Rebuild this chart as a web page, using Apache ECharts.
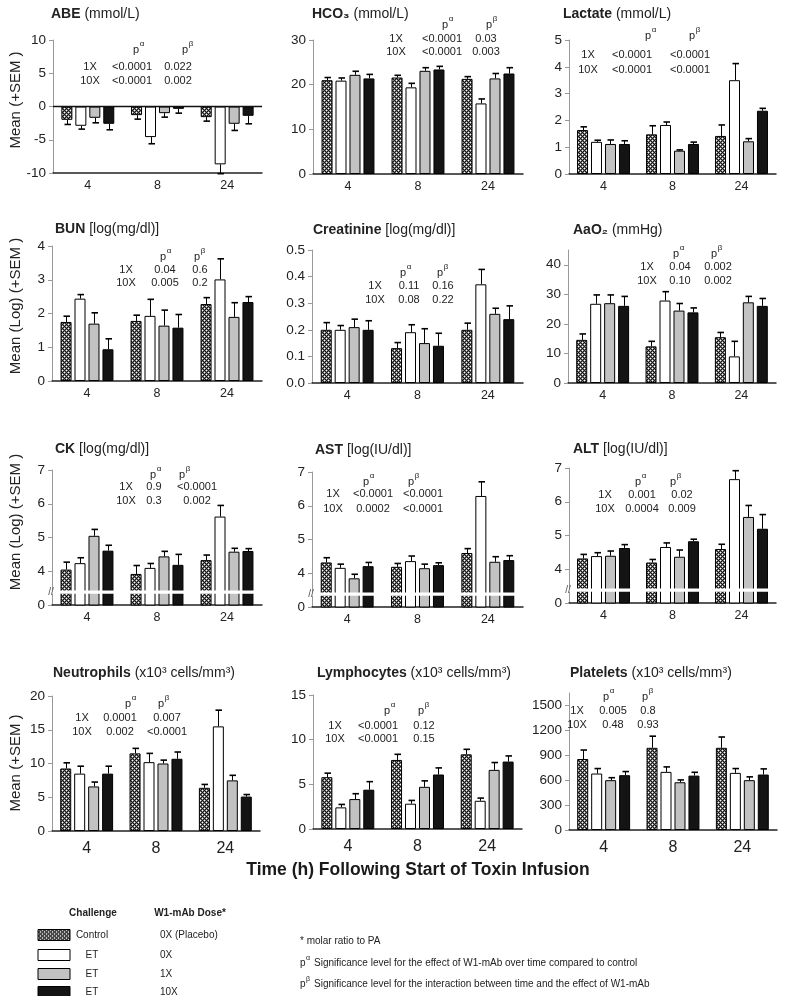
<!DOCTYPE html>
<html><head><meta charset="utf-8">
<script src="https://cdn.jsdelivr.net/npm/echarts@6/dist/echarts.min.js"></script>
<style>html,body{margin:0;padding:0;background:#fff}#c{width:788px;height:996px}</style>
</head><body><div id="c"></div>
<script>
// ---------- data ----------
const categories = ['4', '8', '24'];
const challengeLabels = ['Control', 'ET', 'ET', 'ET'];
const doseLabels = ['0X (Placebo)', '0X', '1X', '10X'];
const pRowLabels = ['1X', '10X'];

// rows = groups (Control, ET 0X, ET 1X, ET 10X), cols = time 4, 8, 24
const abeMean = [[-2.0, -1.3, -1.6], [-2.9, -4.6, -8.7], [-1.7, -1.0, -2.6], [-2.6, -0.35, -1.4]];
const abeSem = [[0.7, 0.6, 0.6], [0.5, 1.0, 1.4], [0.75, 0.6, 1.0], [0.9, 0.65, 1.2]];
const hco3Mean = [[21.0, 21.6, 21.3], [20.9, 19.4, 15.8], [22.2, 23.1, 21.4], [21.4, 23.4, 22.5]];
const hco3Sem = [[0.6, 0.5, 0.5], [0.6, 0.9, 1.0], [0.8, 0.7, 1.1], [0.9, 0.7, 1.3]];
const lacMean = [[1.64, 1.48, 1.42], [1.2, 1.83, 3.5], [1.12, 0.87, 1.22], [1.12, 1.12, 2.36]];
const lacSem = [[0.12, 0.32, 0.41], [0.06, 0.11, 0.62], [0.15, 0.03, 0.1], [0.12, 0.07, 0.09]];
const bunMean = [[1.75, 1.78, 2.28], [2.44, 1.93, 3.01], [1.70, 1.64, 1.90], [0.94, 1.58, 2.34]];
const bunSem = [[0.17, 0.17, 0.19], [0.12, 0.49, 0.61], [0.32, 0.46, 0.42], [0.31, 0.39, 0.16]];
const creMean = [[0.20, 0.131, 0.20], [0.20, 0.191, 0.371], [0.21, 0.15, 0.26], [0.20, 0.14, 0.24]];
const creSem = [[0.027, 0.021, 0.025], [0.016, 0.028, 0.056], [0.03, 0.054, 0.021], [0.034, 0.047, 0.05]];
const aaoMean = [[14.6, 12.4, 15.5], [26.8, 27.9, 9.0], [27.0, 24.5, 27.3], [26.1, 23.9, 26.1]];
const aaoSem = [[2.0, 1.7, 1.6], [3.0, 3.0, 5.1], [2.8, 2.4, 2.0], [3.2, 1.5, 2.5]];
const ckMean = [[4.05, 3.92, 4.33], [4.24, 4.10, 5.62], [5.05, 4.44, 4.58], [4.61, 4.19, 4.60]];
const ckSem = [[0.22, 0.25, 0.15], [0.16, 0.13, 0.33], [0.19, 0.15, 0.10], [0.16, 0.31, 0.07]];
const astMean = [[4.32, 4.19, 4.60], [4.16, 4.36, 6.29], [3.85, 4.15, 4.34], [4.21, 4.24, 4.39]];
const astSem = [[0.14, 0.10, 0.13], [0.11, 0.15, 0.42], [0.12, 0.12, 0.15], [0.11, 0.07, 0.13]];
const altMean = [[4.32, 4.20, 4.60], [4.39, 4.66, 6.67], [4.40, 4.37, 5.55], [4.63, 4.83, 5.20]];
const altSem = [[0.12, 0.09, 0.14], [0.10, 0.12, 0.25], [0.14, 0.20, 0.34], [0.10, 0.06, 0.42]];
const neuMean = [[9.26, 11.5, 6.4], [8.5, 10.2, 15.5], [6.6, 10.0, 7.5], [8.5, 10.7, 5.1]];
const neuSem = [[0.84, 0.74, 0.5], [1.1, 1.3, 2.4], [0.65, 0.5, 0.75], [1.1, 1.0, 0.3]];
const lymMean = [[5.8, 7.73, 8.36], [2.42, 2.83, 3.16], [3.35, 4.72, 6.62], [4.4, 6.1, 7.55]];
const lymSem = [[0.45, 0.63, 0.56], [0.33, 0.37, 0.3], [0.6, 0.67, 0.82], [0.9, 0.74, 0.63]];
const pltMean = [[855, 990, 990], [680, 700, 688], [600, 575, 600], [660, 655, 668]];
const pltSem = [[108, 140, 130], [60, 60, 52], [30, 28, 40], [44, 40, 68]];

// p-values: [1X row, 10X row] x [p-alpha, p-beta]
const abeP = [['<0.0001', '0.022'], ['<0.0001', '0.002']];
const hco3P = [['<0.0001', '0.03'], ['<0.0001', '0.003']];
const lacP = [['<0.0001', '<0.0001'], ['<0.0001', '<0.0001']];
const bunP = [['0.04', '0.6'], ['0.005', '0.2']];
const creP = [['0.11', '0.16'], ['0.08', '0.22']];
const aaoP = [['0.04', '0.002'], ['0.10', '0.002']];
const ckP = [['0.9', '<0.0001'], ['0.3', '0.002']];
const astP = [['<0.0001', '<0.0001'], ['0.0002', '<0.0001']];
const altP = [['0.001', '0.02'], ['0.0004', '0.009']];
const neuP = [['0.0001', '0.007'], ['0.002', '<0.0001']];
const lymP = [['<0.0001', '0.12'], ['<0.0001', '0.15']];
const pltP = [['0.005', '0.8'], ['0.48', '0.93']];

// ---------- styling / layout ----------
const FONT = '"Liberation Sans", Arial, sans-serif';
const BW = 11, GAPPCT = 27, GAP = BW * GAPPCT / 100;

function makeChecker() {
  const c = document.createElement('canvas'); c.width = 4; c.height = 4;
  const g = c.getContext('2d');
  g.fillStyle = '#161616'; g.fillRect(0, 0, 4, 4);
  g.fillStyle = '#7a7a7a';
  [[1,0],[0,1],[3,0],[0,3],[3,2],[2,3],[1,2],[2,1]].forEach(p => g.fillRect(p[0], p[1], 1, 1));
  g.fillStyle = '#ffffff';
  g.fillRect(0, 0, 1, 1); g.fillRect(2, 2, 1, 1);
  return c;
}
const checker = makeChecker();
const FILLS = [{image: checker, repeat: 'repeat'}, '#ffffff', '#c2c2c2', '#141414'];

const panels = [
  {t: ['ABE', ' (mmol/L)'], tp: [51, 14], m: abeMean, s: abeSem, p: abeP, g: [53, 40, 209, 133], min: -10, max: 10, iv: 5, zero: true,
   pp: [90, 132, 178, 136, 185, 50, 67, 81], yn: ['Mean (+SEM )', 16, 100]},
  {t: ['HCO₃', ' (mmol/L)'], tp: [312, 14], m: hco3Mean, s: hco3Sem, p: hco3P, g: [313, 40, 210, 134], min: 0, max: 30, iv: 10,
   pp: [396, 442, 486, 445, 489, 25, 39, 52]},
  {t: ['Lactate', ' (mmol/L)'], tp: [563, 14], m: lacMean, s: lacSem, p: lacP, g: [569, 40, 207, 134], min: 0, max: 5, iv: 1,
   pp: [588, 632, 690, 648, 692, 36, 55, 70]},
  {t: ['BUN', ' [log(mg/dl)]'], tp: [55, 229], m: bunMean, s: bunSem, p: bunP, g: [52, 246, 210, 135], min: 0, max: 4, iv: 1,
   pp: [126, 165, 200, 163, 197, 257, 270, 283], yn: ['Mean (Log) (+SEM )', 16, 306]},
  {t: ['Creatinine', ' [log(mg/dl)]'], tp: [313, 230], m: creMean, s: creSem, p: creP, g: [312, 250, 211, 133], min: 0, max: 0.5, iv: 0.1, fix: 1,
   pp: [375, 409, 443, 403, 440, 273, 286, 300]},
  {t: ['AaO₂', ' (mmHg)'], tp: [573, 230], m: aaoMean, s: aaoSem, p: aaoP, g: [568, 250, 208, 133], min: 0, max: 45, iv: 10, hideMax: true,
   pp: [647, 680, 718, 676, 714, 254, 267, 281]},
  {t: ['CK', ' [log(mg/dl)]'], tp: [55, 449], m: ckMean, s: ckSem, p: ckP, g: [52, 470, 210, 135], min: 3, max: 7, iv: 1, brk: 3.38,
   pp: [126, 154, 197, 153, 182, 475, 487, 501], yn: ['Mean (Log) (+SEM )', 16, 522]},
  {t: ['AST', ' [log(IU/dl)]'], tp: [315, 450], m: astMean, s: astSem, p: astP, g: [312, 472, 211, 135], min: 3, max: 7, iv: 1, brk: 3.38,
   pp: [333, 373, 423, 366, 411, 482, 494, 509]},
  {t: ['ALT', ' [log(IU/dl)]'], tp: [573, 449], m: altMean, s: altSem, p: altP, g: [569, 468, 207, 135], min: 3, max: 7, iv: 1, brk: 3.38,
   pp: [605, 642, 682, 638, 673, 482, 495, 509]},
  {t: ['Neutrophils', ' (x10³ cells/mm³)'], tp: [53, 673], m: neuMean, s: neuSem, p: neuP, g: [52, 696, 208, 135], min: 0, max: 20, iv: 5, big: true,
   pp: [82, 120, 167, 128, 161, 704, 718, 732], yn: ['Mean (+SEM )', 16, 763]},
  {t: ['Lymphocytes', ' (x10³ cells/mm³)'], tp: [317, 673], m: lymMean, s: lymSem, p: lymP, g: [313, 695, 209, 134], min: 0, max: 15, iv: 5, big: true,
   pp: [335, 378, 424, 387, 421, 711, 726, 739]},
  {t: ['Platelets', ' (x10³ cells/mm³)'], tp: [570, 673], m: pltMean, s: pltSem, p: pltP, g: [569, 693, 208, 137], min: 0, max: 1650, iv: 300, hideMax: true, big: true,
   pp: [577, 613, 648, 606, 645, 697, 711, 725]}
];

function errRender(params, api) {
  const c = api.value(0), v = api.value(1), s = api.value(2), g = api.value(3);
  const a = api.coord([c, v]);
  const b = api.coord([c, v < 0 ? v - s : v + s]);
  const x = Math.round(a[0] + (g - 1.5) * (BW + GAP)) + 0.5;
  return {type: 'group', children: [
    {type: 'line', shape: {x1: x, y1: a[1], x2: x, y2: b[1]}, style: {stroke: '#000', lineWidth: 1}},
    {type: 'line', shape: {x1: x - 3, y1: b[1], x2: x + 3.5, y2: b[1]}, style: {stroke: '#000', lineWidth: 1.6}}
  ]};
}
function breakRender(params, api) {
  const cs = params.coordSys;
  const y = api.coord([0, api.value(1)])[1];
  return {type: 'group', children: [
    {type: 'rect', shape: {x: cs.x - 5, y: y - 1.6, width: cs.width + 5, height: 3.2}, style: {fill: '#fff'}},
    {type: 'text', x: cs.x - 1, y: y, style: {text: '//', fill: '#555', fontSize: 10, fontFamily: FONT,
      align: 'center', verticalAlign: 'middle', textAlign: 'center', textVerticalAlign: 'middle'}}
  ]};
}
function zeroRender(params, api) {
  const cs = params.coordSys;
  const y = api.coord([0, api.value(1)])[1];
  return {type: 'line', shape: {x1: cs.x, y1: y, x2: cs.x + cs.width, y2: y}, style: {stroke: '#111', lineWidth: 1.6}};
}

function txt(x, y, text, opt) {
  opt = opt || {};
  return {type: 'text', x: x, y: y, rotation: opt.rot || 0, silent: true, z: 20,
    style: Object.assign({text: text, fill: opt.color || '#222', fontSize: opt.size || 11, fontFamily: FONT,
      fontWeight: opt.weight || 'normal',
      align: opt.align || 'center', verticalAlign: 'middle', textAlign: opt.align || 'center', textVerticalAlign: 'middle'},
      opt.rich ? {rich: opt.rich} : {})};
}

const option = {animation: false, backgroundColor: '#fff', textStyle: {fontFamily: FONT},
  grid: [], xAxis: [], yAxis: [], series: [], graphic: []};

panels.forEach((P, k) => {
  option.grid.push({left: P.g[0], top: P.g[1], width: P.g[2], height: P.g[3], containLabel: false});
  option.xAxis.push({type: 'category', gridIndex: k, data: categories,
    axisLine: {onZero: false, lineStyle: {color: '#222', width: 1.5}},
    axisTick: {alignWithLabel: true, length: 4, lineStyle: {color: '#222'}},
    axisLabel: {color: '#222', fontSize: P.big ? 16 : 12.5, margin: P.big ? 10 : 6, fontFamily: FONT}});
  option.yAxis.push({type: 'value', gridIndex: k, min: P.min, max: P.max, interval: P.iv,
    splitLine: {show: false},
    axisLine: {show: true, lineStyle: {color: '#999'}},
    axisTick: {show: true, length: 4, lineStyle: {color: '#999'}},
    axisLabel: {color: '#222', fontSize: 13.5, margin: 7, fontFamily: FONT, showMaxLabel: !P.hideMax,
      formatter: v => P.brk && v === 3 ? '0' : (P.fix ? v.toFixed(P.fix) : String(v))}});
  for (let g = 0; g < 4; g++) {
    option.series.push({type: 'bar', xAxisIndex: k, yAxisIndex: k, data: P.m[g], barWidth: BW, barGap: GAPPCT + '%',
      itemStyle: {color: FILLS[g], borderColor: '#000', borderWidth: 1}, z: 2, silent: true});
  }
  const eb = [];
  for (let g = 0; g < 4; g++) for (let c = 0; c < 3; c++) eb.push([c, P.m[g][c], P.s[g][c], g]);
  option.series.push({type: 'custom', xAxisIndex: k, yAxisIndex: k, data: eb, renderItem: errRender,
    encode: {x: 0, y: 1}, z: 3, silent: true});
  if (P.brk) option.series.push({type: 'custom', xAxisIndex: k, yAxisIndex: k, data: [[0, P.brk]],
    renderItem: breakRender, encode: {x: 0, y: 1}, z: 5, silent: true});
  if (P.zero) option.series.push({type: 'custom', xAxisIndex: k, yAxisIndex: k, data: [[0, 0]],
    renderItem: zeroRender, encode: {x: 0, y: 1}, z: 5, silent: true});

  // title
  option.graphic.push(txt(P.tp[0], P.tp[1], '{b|' + P.t[0] + '}{n|' + P.t[1] + '}',
    {align: 'left', size: 14, rich: {b: {fontWeight: 'bold', fontSize: 14, fontFamily: FONT, fill: '#222'}, n: {fontSize: 14, fontFamily: FONT, fill: '#222'}}}));
  // p-values
  const q = P.pp;
  option.graphic.push(txt(q[3], q[5], 'p'), txt(q[3] + 6, q[5] - 6, 'α', {size: 8}));
  option.graphic.push(txt(q[4], q[5], 'p'), txt(q[4] + 6, q[5] - 6, 'β', {size: 8}));
  for (let r = 0; r < 2; r++) {
    option.graphic.push(txt(q[0], q[6 + r], pRowLabels[r]));
    option.graphic.push(txt(q[1], q[6 + r], P.p[r][0]));
    option.graphic.push(txt(q[2], q[6 + r], P.p[r][1]));
  }
  if (P.yn) option.graphic.push(txt(P.yn[1], P.yn[2], P.yn[0], {size: 15, rot: Math.PI / 2}));
});

// overall x title
option.graphic.push(txt(418, 870, 'Time (h) Following Start of Toxin Infusion', {size: 17.5, weight: 'bold', color: '#1a1a1a'}));

// legend
option.graphic.push(txt(93, 913, 'Challenge', {size: 10, weight: 'bold'}));
option.graphic.push(txt(190, 913, 'W1-mAb Dose*', {size: 10, weight: 'bold'}));
const legY = [935, 955, 974, 992];
for (let i = 0; i < 4; i++) {
  option.graphic.push({type: 'rect', x: 38, y: legY[i] - 5.5, shape: {width: 32, height: 11}, silent: true,
    style: {fill: FILLS[i], stroke: '#000', lineWidth: 1}});
  option.graphic.push(txt(92, legY[i], challengeLabels[i], {size: 10}));
  option.graphic.push(txt(160, legY[i], doseLabels[i], {size: 10, align: 'left'}));
}
option.graphic.push(txt(300, 941, '* molar ratio to PA', {size: 10, align: 'left'}));
option.graphic.push(txt(300, 963, 'p', {size: 10, align: 'left'}), txt(306, 958, 'α', {size: 7, align: 'left'}),
  txt(314, 963, 'Significance level for the effect of W1-mAb over time compared to control', {size: 10, align: 'left'}));
option.graphic.push(txt(300, 984, 'p', {size: 10, align: 'left'}), txt(306, 979, 'β', {size: 7, align: 'left'}),
  txt(314, 984, 'Significance level for the interaction between time and the effect of W1-mAb', {size: 10, align: 'left'}));

const chart = echarts.init(document.getElementById('c'), null, {renderer: 'canvas'});
chart.setOption(option);
</script></body></html>
